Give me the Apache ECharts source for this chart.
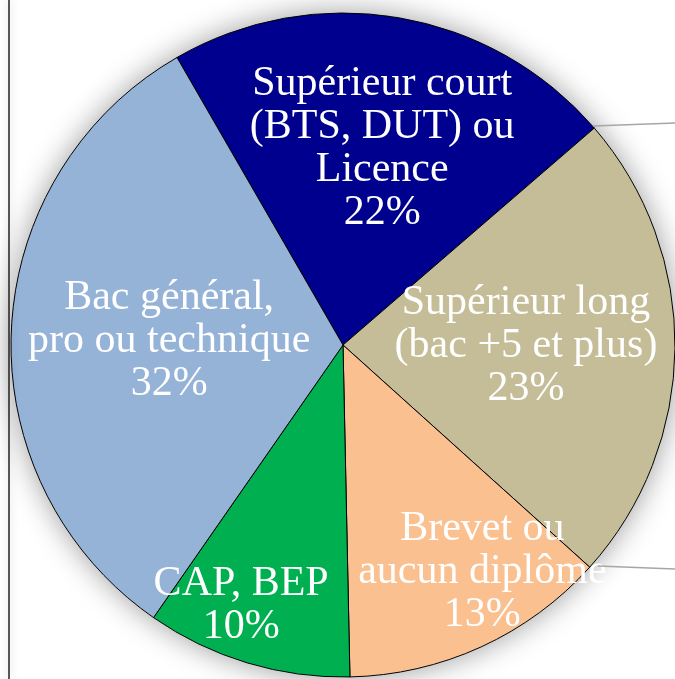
<!DOCTYPE html>
<html>
<head>
<meta charset="utf-8">
<script src="https://cdn.jsdelivr.net/npm/echarts@6/dist/echarts.min.js"></script>
<style>
  html, body { margin: 0; padding: 0; background: #fff; }
  #main { width: 675px; height: 679px; }
</style>
</head>
<body>
<div id="main"></div>
<script>
// diplômes, clockwise from the top-left slice
var categories = ['Supérieur court\n(BTS, DUT) ou\nLicence', 'Supérieur long\n(bac +5 et plus)', 'Brevet ou\naucun diplôme', 'CAP, BEP', 'Bac général,\npro ou technique'];
var values = [22, 23, 13, 10, 32];
var colors = ['#00008E', '#C4BD97', '#FAC090', '#00B050', '#95B3D7'];
// nudge labels from the default "inside" spot
var labelOffsets = [[11, -30], [14, -1], [69, 73], [-53, 99], [-5, 3]];

var chart = echarts.init(document.getElementById('main'), null, { renderer: 'canvas' });

var pieData = [];
for (var i = 0; i < values.length; i++) {
  pieData.push({
    name: categories[i],
    value: values[i],
    itemStyle: { color: colors[i] },
    label: { offset: labelOffsets[i] }
  });
}

var option = {
  animation: false,
  backgroundColor: '#fff',
  graphic: [
    {
      type: 'line',
      shape: { x1: 9, y1: 0, x2: 9, y2: 679 },
      style: { stroke: '#222', lineWidth: 1.5, shadowBlur: 8, shadowColor: 'rgba(0,0,0,0.25)' },
      z: 10
    },
    {
      type: 'line',
      shape: { x1: 593, y1: 126, x2: 675, y2: 123 },
      style: { stroke: '#a6a6a6', lineWidth: 1.5 },
      z: 10
    },
    {
      type: 'line',
      shape: { x1: 598, y1: 566, x2: 675, y2: 569 },
      style: { stroke: '#a6a6a6', lineWidth: 1.5 },
      z: 10
    }
  ],
  series: [
    {
      // soft shadow behind the pie
      type: 'pie',
      silent: true,
      z: 1,
      center: [343, 345],
      radius: 332,
      label: { show: false },
      labelLine: { show: false },
      itemStyle: { color: '#fff', shadowBlur: 30, shadowColor: 'rgba(0,0,0,0.4)' },
      data: [1]
    },
    {
      type: 'pie',
      z: 2,
      center: [343, 345],
      radius: 332,
      startAngle: 120,
      clockwise: true,
      avoidLabelOverlap: false,
      itemStyle: { borderColor: '#000', borderWidth: 1 },
      label: {
        show: true,
        position: 'inside',
        formatter: function (p) { return p.name + '\n' + p.value + '%'; },
        color: '#fff',
        fontFamily: 'Liberation Serif',
        fontSize: 42,
        lineHeight: 43,
        align: 'center'
      },
      labelLine: { show: false },
      emphasis: { disabled: true },
      data: pieData
    }
  ]
};

chart.setOption(option);
</script>
</body>
</html>
